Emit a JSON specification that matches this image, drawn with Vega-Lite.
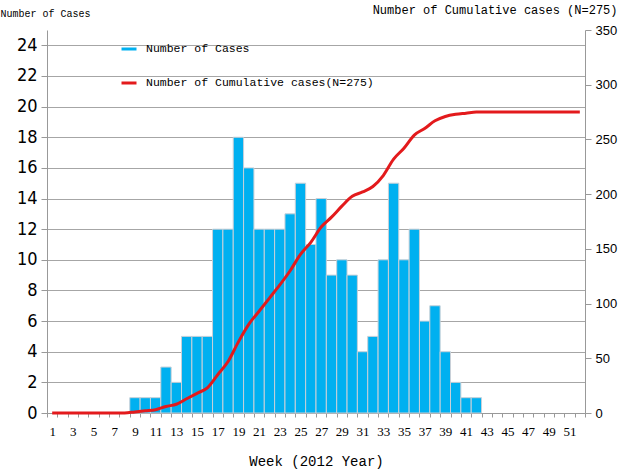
{
  "$schema": "https://vega.github.io/schema/vega-lite/v6.json",
  "width": 538,
  "height": 383,
  "autosize": {"type": "none"},
  "padding": {"left": 47, "top": 30, "right": 37, "bottom": 57},
  "background": "white",
  "config": {"view": {"stroke": null}},
  "data": {"values": [
    {"week": 1, "cases": 0, "cumulative": 0},
    {"week": 2, "cases": 0, "cumulative": 0},
    {"week": 3, "cases": 0, "cumulative": 0},
    {"week": 4, "cases": 0, "cumulative": 0},
    {"week": 5, "cases": 0, "cumulative": 0},
    {"week": 6, "cases": 0, "cumulative": 0},
    {"week": 7, "cases": 0, "cumulative": 0},
    {"week": 8, "cases": 0, "cumulative": 0},
    {"week": 9, "cases": 1, "cumulative": 1},
    {"week": 10, "cases": 1, "cumulative": 2},
    {"week": 11, "cases": 1, "cumulative": 3},
    {"week": 12, "cases": 3, "cumulative": 6},
    {"week": 13, "cases": 2, "cumulative": 8},
    {"week": 14, "cases": 5, "cumulative": 13},
    {"week": 15, "cases": 5, "cumulative": 18},
    {"week": 16, "cases": 5, "cumulative": 23},
    {"week": 17, "cases": 12, "cumulative": 35},
    {"week": 18, "cases": 12, "cumulative": 47},
    {"week": 19, "cases": 18, "cumulative": 65},
    {"week": 20, "cases": 16, "cumulative": 81},
    {"week": 21, "cases": 12, "cumulative": 93},
    {"week": 22, "cases": 12, "cumulative": 105},
    {"week": 23, "cases": 12, "cumulative": 117},
    {"week": 24, "cases": 13, "cumulative": 130},
    {"week": 25, "cases": 15, "cumulative": 145},
    {"week": 26, "cases": 11, "cumulative": 156},
    {"week": 27, "cases": 14, "cumulative": 170},
    {"week": 28, "cases": 9, "cumulative": 179},
    {"week": 29, "cases": 10, "cumulative": 189},
    {"week": 30, "cases": 9, "cumulative": 198},
    {"week": 31, "cases": 4, "cumulative": 202},
    {"week": 32, "cases": 5, "cumulative": 207},
    {"week": 33, "cases": 10, "cumulative": 217},
    {"week": 34, "cases": 15, "cumulative": 232},
    {"week": 35, "cases": 10, "cumulative": 242},
    {"week": 36, "cases": 12, "cumulative": 254},
    {"week": 37, "cases": 6, "cumulative": 260},
    {"week": 38, "cases": 7, "cumulative": 267},
    {"week": 39, "cases": 4, "cumulative": 271},
    {"week": 40, "cases": 2, "cumulative": 273},
    {"week": 41, "cases": 1, "cumulative": 274},
    {"week": 42, "cases": 1, "cumulative": 275},
    {"week": 43, "cases": 0, "cumulative": 275},
    {"week": 44, "cases": 0, "cumulative": 275},
    {"week": 45, "cases": 0, "cumulative": 275},
    {"week": 46, "cases": 0, "cumulative": 275},
    {"week": 47, "cases": 0, "cumulative": 275},
    {"week": 48, "cases": 0, "cumulative": 275},
    {"week": 49, "cases": 0, "cumulative": 275},
    {"week": 50, "cases": 0, "cumulative": 275},
    {"week": 51, "cases": 0, "cumulative": 275},
    {"week": 52, "cases": 0, "cumulative": 275}
  ]},
  "encoding": {
    "x": {
      "field": "week",
      "type": "ordinal",
      "sort": "ascending",
      "scale": {"paddingInner": 0, "paddingOuter": 0},
      "axis": {
        "labelAngle": 0,
        "labelExpr": "datum.value % 2 === 1 ? datum.label : ''",
        "labelFont": "Liberation Serif",
        "labelFontSize": 13,
        "labelColor": "black",
        "labelPadding": 8,
        "tickBand": "extent",
        "tickSize": 4,
        "tickColor": "#999999",
        "domainColor": "#999999",
        "title": "Week  (2012 Year)",
        "titleFont": "Liberation Mono",
        "titleFontSize": 14,
        "titleFontWeight": "normal",
        "titleColor": "black",
        "titlePadding": 16
      }
    }
  },
  "layer": [
    {
      "transform": [{"filter": "datum.cases > 0"}],
      "mark": {"type": "bar", "stroke": "#c8d0d8", "strokeWidth": 1},
      "encoding": {
        "y": {
          "field": "cases",
          "type": "quantitative",
          "scale": {"domain": [0, 25], "nice": false},
          "axis": {
            "values": [0, 2, 4, 6, 8, 10, 12, 14, 16, 18, 20, 22, 24],
            "grid": true,
            "gridColor": "#a6a6a6",
            "gridWidth": 1,
            "domainColor": "#999999",
            "tickColor": "#999999",
            "tickSize": 6,
            "labelFont": "Liberation Sans Narrow, DejaVu Sans Condensed, sans-serif",
            "labelFontSize": 18,
            "labelColor": "black",
            "labelPadding": 4,
            "title": "Number of Cases",
            "titleAngle": 0,
            "titleAlign": "left",
            "titleBaseline": "middle",
            "titleX": -47,
            "titleY": -17,
            "titleFont": "Liberation Mono",
            "titleFontSize": 10,
            "titleFontWeight": "normal",
            "titleColor": "black"
          }
        },
        "color": {
          "datum": "Number of Cases",
          "scale": {
            "domain": ["Number of Cases", "Number of Cumulative cases(N=275)"],
            "range": ["#00b0f0", "#e31a1c"]
          },
          "legend": {
            "title": null,
            "orient": "none",
            "legendX": 73,
            "legendY": 10,
            "padding": 0,
            "rowPadding": 19,
            "symbolType": "stroke",
            "symbolSize": 225,
            "symbolStrokeWidth": 3,
            "labelOffset": 8,
            "labelLimit": 400,
            "labelFont": "Liberation Mono",
            "labelFontSize": 11.5,
            "labelColor": "black",
            "encode": {
              "symbols": {
                "update": {
                  "shape": {"signal": "datum.label === 'Number of Cases' ? 'M-1,-0.22H1V0.22H-1Z' : 'stroke'"},
                  "fill": {"signal": "datum.label === 'Number of Cases' ? '#00b0f0' : 'transparent'"},
                  "stroke": {"signal": "datum.label === 'Number of Cases' ? '#00b0f0' : '#e31a1c'"},
                  "strokeWidth": {"signal": "datum.label === 'Number of Cases' ? 0 : 3"}
                }
              }
            }
          }
        }
      }
    },
    {
      "mark": {"type": "line", "strokeWidth": 3, "interpolate": "monotone"},
      "encoding": {
        "y": {
          "field": "cumulative",
          "type": "quantitative",
          "scale": {"domain": [0, 350], "nice": false},
          "axis": {
            "orient": "right",
            "values": [0, 50, 100, 150, 200, 250, 300, 350],
            "grid": false,
            "domainColor": "#999999",
            "tickColor": "#999999",
            "tickSize": 6,
            "labelFont": "Liberation Sans",
            "labelFontSize": 13,
            "labelColor": "black",
            "labelPadding": 4,
            "title": "Number of Cumulative cases (N=275)",
            "titleAngle": 0,
            "titleAlign": "right",
            "titleBaseline": "middle",
            "titleX": 32,
            "titleY": -21,
            "titleFont": "Liberation Mono",
            "titleFontSize": 12,
            "titleFontWeight": "normal",
            "titleColor": "black"
          }
        },
        "color": {"datum": "Number of Cumulative cases(N=275)"}
      }
    }
  ],
  "resolve": {"scale": {"y": "independent"}}
}
